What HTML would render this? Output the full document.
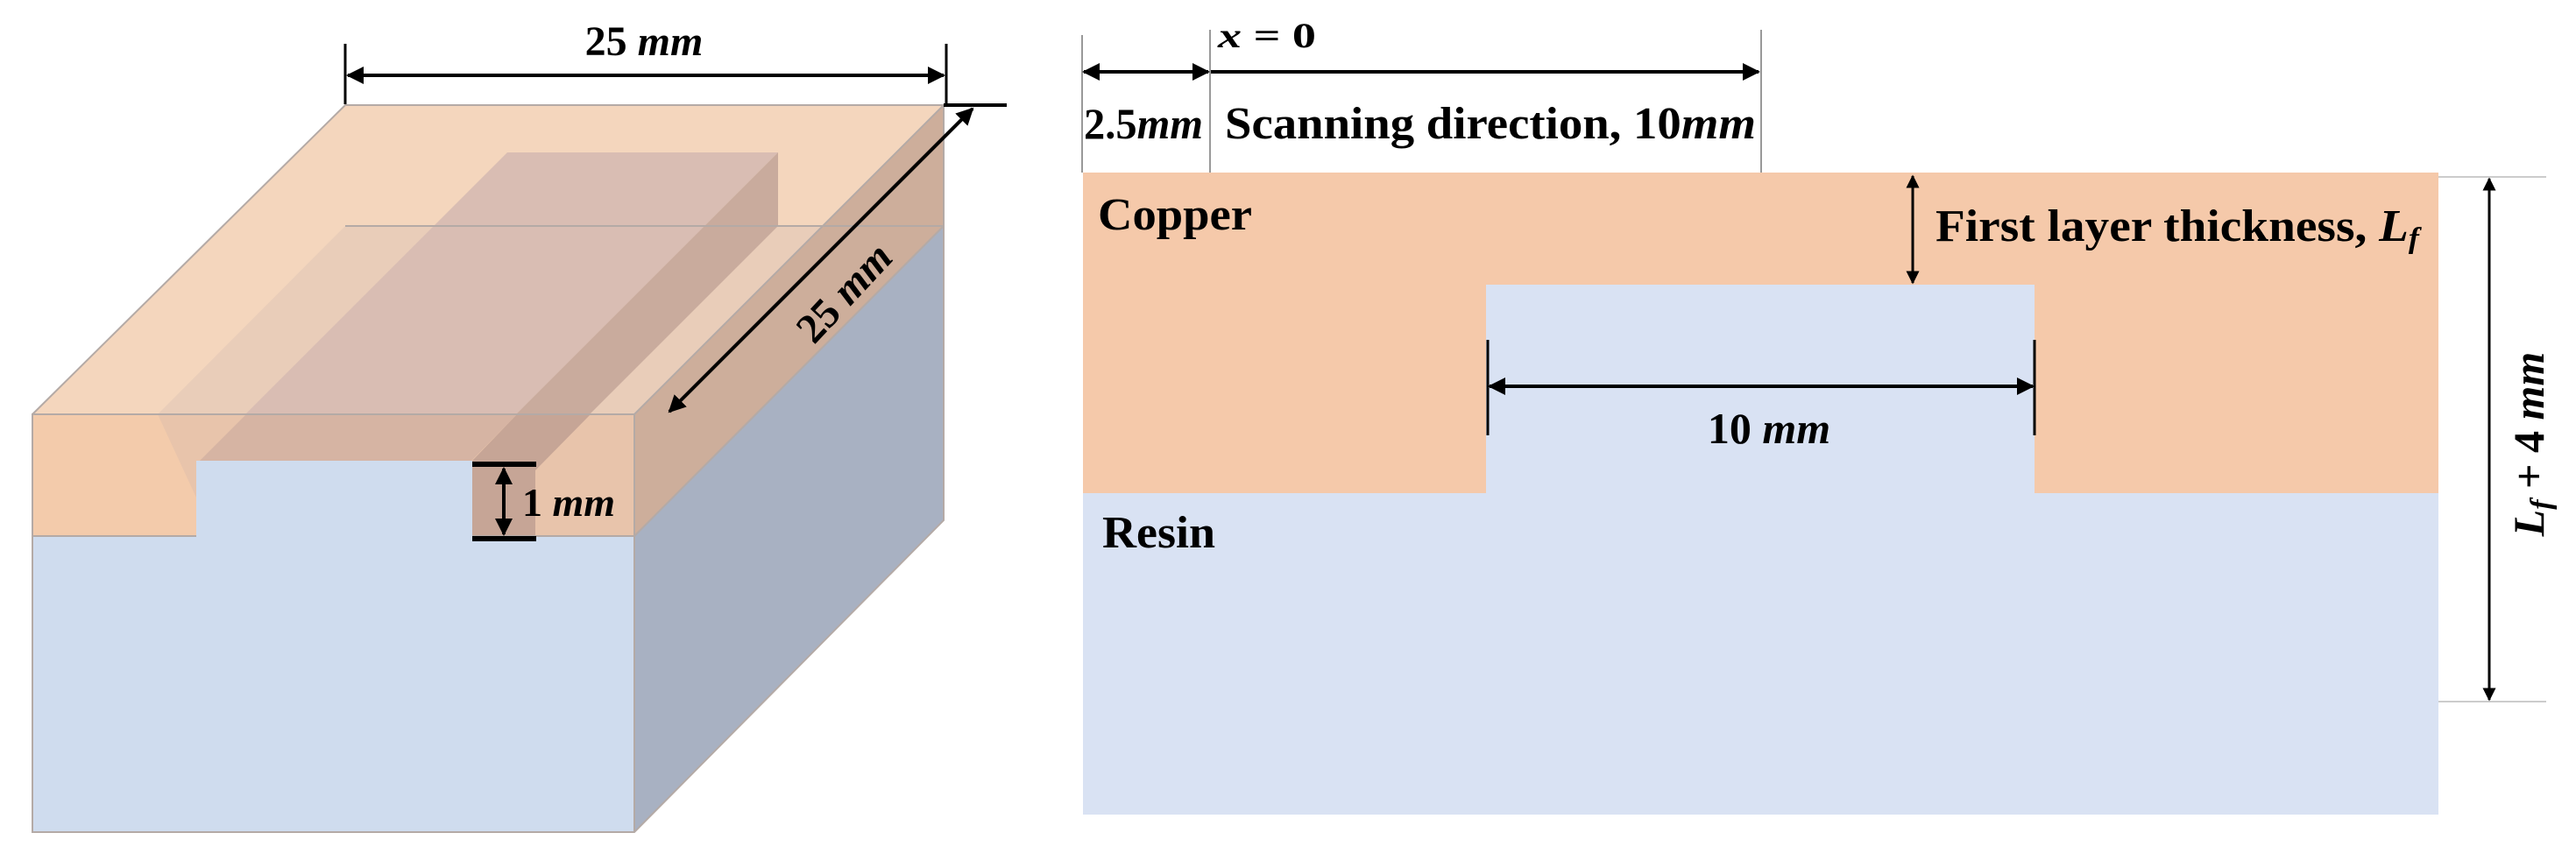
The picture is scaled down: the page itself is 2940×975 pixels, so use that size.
<!DOCTYPE html>
<html><head><meta charset="utf-8"><style>html,body{margin:0;padding:0;background:#fff}svg{display:block}</style></head>
<body>
<svg width="2940" height="975" viewBox="0 0 2940 975" xmlns="http://www.w3.org/2000/svg" font-family="'Liberation Serif', serif" font-weight="bold">
<defs>
<marker id="a" viewBox="0 0 10 10" refX="9" refY="5" markerWidth="5" markerHeight="5" orient="auto-start-reverse"><path d="M0,0 L10,5 L0,10 z" fill="#000"/></marker>
</defs>
<polygon points="394,120 1077,120 724,473 37,473" fill="#f4d6bd"/>
<polygon points="394,258 1077,258 862,473 180,473" fill="#e9cdb9"/>
<polygon points="579,174 888,174 590,472 281,472" fill="#d9bdb3"/>
<polygon points="888,174 888,258 674,472 590,472" fill="#c9ab9d"/>
<rect x="37" y="473" width="687" height="477" fill="#cfdcee"/>
<polygon points="37,473 724,473 724,612 539,612 539,526 224,526 224,612 37,612" fill="#f3cbab"/>
<polygon points="180,473 724,473 724,612 539,612 539,526 224,526 224,568" fill="#e8c4ab"/>
<polygon points="281,473 590,473 538,526 228,526" fill="#d6b4a3"/>
<polygon points="590,473 674,473 611,537 611,612 539,612 539,526" fill="#c6a596"/>
<polygon points="724,473 1077,120 1077,594 724,950" fill="#a8b1c2"/>
<polygon points="724,473 1077,120 1077,258 724,612" fill="#cdae9b"/>
<g stroke="#b4aaa6" stroke-width="2" fill="none">
<polyline points="37,473 394,120 1077,120 1077,594 724,950 37,950 37,473 724,473 1077,120"/>
<line x1="724" y1="473" x2="724" y2="950"/>
<line x1="394" y1="258" x2="1077" y2="258"/>
<line x1="724" y1="612" x2="1077" y2="258"/>
<line x1="37" y1="612" x2="224" y2="612"/>
<line x1="539" y1="612" x2="724" y2="612"/>
</g>
<g stroke="#000" fill="none">
<line x1="394" y1="50" x2="394" y2="119" stroke-width="3"/>
<line x1="1080" y1="50" x2="1080" y2="119" stroke-width="3"/>
<line x1="397" y1="86" x2="1077" y2="86" stroke-width="4" marker-start="url(#a)" marker-end="url(#a)"/>
<line x1="1077" y1="120" x2="1149" y2="120" stroke-width="4"/>
<line x1="764" y1="470" x2="1110" y2="124" stroke-width="4" marker-start="url(#a)" marker-end="url(#a)"/>
<line x1="539" y1="530" x2="612" y2="530" stroke-width="6"/>
<line x1="539" y1="615" x2="612" y2="615" stroke-width="6"/>
<line x1="575" y1="535" x2="575" y2="610" stroke-width="4" marker-start="url(#a)" marker-end="url(#a)"/>
</g>
<text x="735" y="63" font-size="48" text-anchor="middle">25 <tspan font-style="italic">mm</tspan></text>
<text x="596" y="589" font-size="46">1 <tspan font-style="italic">mm</tspan></text>
<text transform="translate(975,345) rotate(-47)" font-size="48" text-anchor="middle">25 <tspan font-style="italic">mm</tspan></text>

<rect x="1236" y="197" width="1547" height="733" fill="#d9e2f3"/>
<polygon points="1236,197 2783,197 2783,563 2322,563 2322,325 1696,325 1696,563 1236,563" fill="#f5c9aa"/>
<g stroke="#999" stroke-width="2">
<line x1="1235" y1="40" x2="1235" y2="197"/>
<line x1="1381" y1="34" x2="1381" y2="197"/>
<line x1="2010" y1="34" x2="2010" y2="197"/>
<line x1="2783" y1="202" x2="2906" y2="202" stroke="#ccc"/>
<line x1="2783" y1="801" x2="2906" y2="801" stroke="#ccc"/>
</g>
<g stroke="#000" fill="none">
<line x1="1237" y1="82" x2="1379" y2="82" stroke-width="4" marker-start="url(#a)" marker-end="url(#a)"/>
<line x1="1382" y1="82" x2="2007" y2="82" stroke-width="4" marker-end="url(#a)"/>
<line x1="2183" y1="201" x2="2183" y2="323" stroke-width="3" marker-start="url(#a)" marker-end="url(#a)"/>
<line x1="1698" y1="388" x2="1698" y2="497" stroke-width="3"/>
<line x1="2322" y1="388" x2="2322" y2="497" stroke-width="3"/>
<line x1="1700" y1="441" x2="2320" y2="441" stroke-width="4" marker-start="url(#a)" marker-end="url(#a)"/>
<line x1="2841" y1="204" x2="2841" y2="799" stroke-width="3" marker-start="url(#a)" marker-end="url(#a)"/>
</g>
<text x="1390" y="54" font-size="40" textLength="112" lengthAdjust="spacingAndGlyphs"><tspan font-style="italic">x</tspan> = 0</text>
<text x="1237" y="158" font-size="50" textLength="136" lengthAdjust="spacingAndGlyphs">2.5<tspan font-style="italic">mm</tspan></text>
<text x="1398" y="158" font-size="52" textLength="606" lengthAdjust="spacingAndGlyphs">Scanning direction, 10<tspan font-style="italic">mm</tspan></text>
<text x="1253" y="262" font-size="52" textLength="176" lengthAdjust="spacingAndGlyphs">Copper</text>
<text x="2209" y="275" font-size="52" textLength="552" lengthAdjust="spacingAndGlyphs">First layer thickness, <tspan font-style="italic">L<tspan font-size="34" dy="8">f</tspan></tspan></text>
<text x="2019" y="506" font-size="50" text-anchor="middle">10 <tspan font-style="italic">mm</tspan></text>
<text x="1258" y="625" font-size="52" textLength="129" lengthAdjust="spacingAndGlyphs">Resin</text>
<text transform="translate(2903,507) rotate(-90)" font-size="50" text-anchor="middle" font-style="italic">L<tspan font-size="34" dy="8">f</tspan><tspan dy="-8" font-style="normal"> + 4 </tspan>mm</text>
</svg>
</body></html>
